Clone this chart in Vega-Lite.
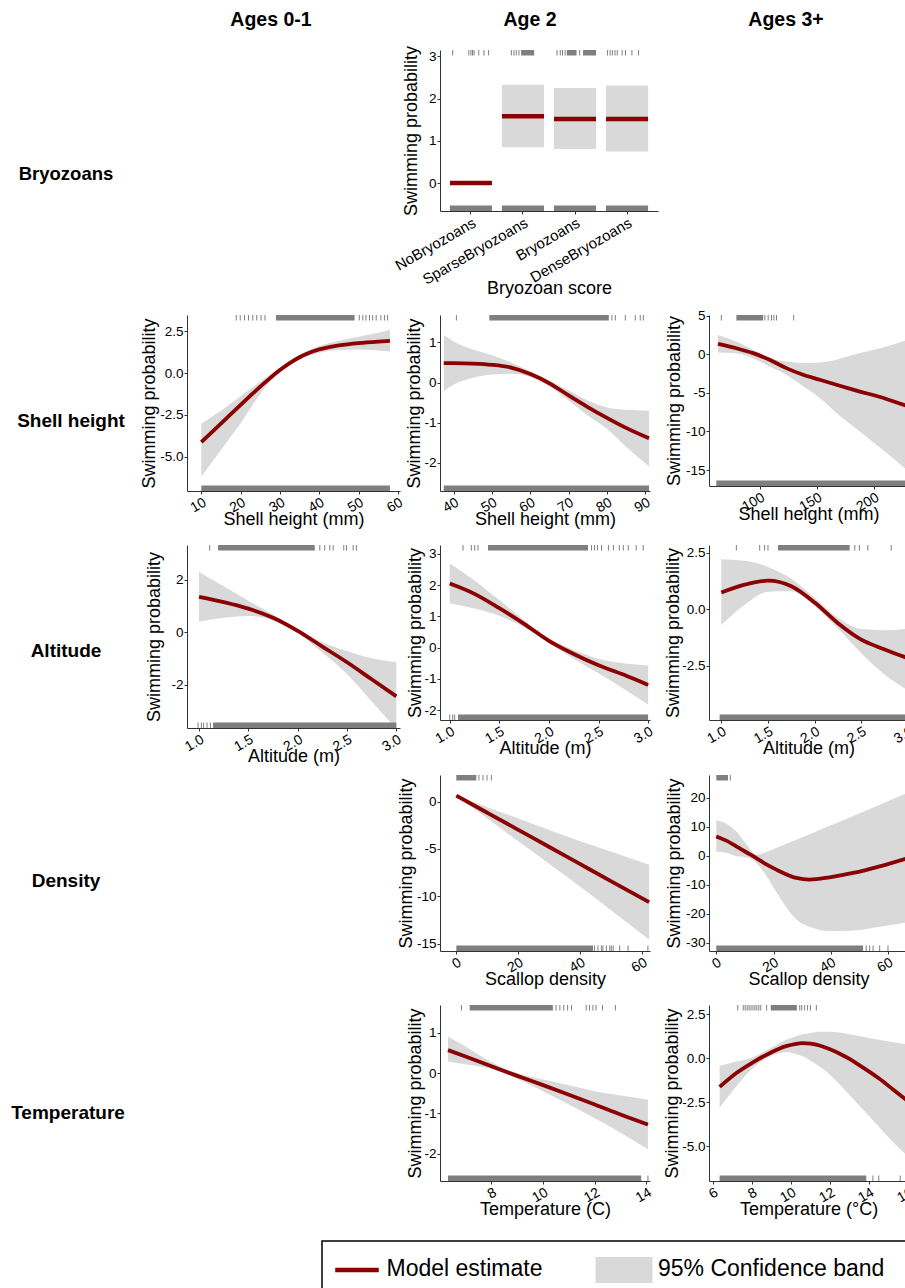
{
"$schema": "https://vega.github.io/schema/vega-lite/v6.json",
"padding": 0,
"background": "white",
"config": {
 "font": "Liberation Sans",
 "view": {"stroke": null},
 "locale": {"number": {"decimal": ".", "thousands": ",", "grouping": [3], "currency": ["$", ""], "minus": "-"}},
 "axis": {"grid": false, "domainColor": "#333333", "tickColor": "#333333", "tickSize": 3, "labelPadding": 1, "labelFontSize": 13.5, "labelColor": "#000000", "titleFontSize": 18, "titleFontWeight": "normal", "titleColor": "#000000", "labelOverlap": false, "labelFlush": false},
 "axisX": {"labelAngle": -30, "labelAlign": "right", "labelBaseline": "top", "labelFontSize": 14, "titlePadding": 0, "minExtent": 19.5, "maxExtent": 19.5},
 "axisY": {"titlePadding": 1}
},
"datasets": {
 "legend": [{"item": "Model estimate"}, {"item": "95% Confidence band"}],
 "bryo": [
  {"cat": "NoBryozoans", "est": 0, "lo": null, "hi": null},
  {"cat": "SparseBryozoans", "est": 1.58, "lo": 0.85, "hi": 2.33},
  {"cat": "Bryozoans", "est": 1.52, "lo": 0.81, "hi": 2.25},
  {"cat": "DenseBryozoans", "est": 1.52, "lo": 0.75, "hi": 2.31}
 ],
 "curves": [
  {"p":"A_shell","x":10,"est":-4.14,"lo":-6.2,"hi":-3.05},
  {"p":"A_shell","x":12.5,"est":-3.58,"lo":-5.4,"hi":-2.65},
  {"p":"A_shell","x":15,"est":-3.02,"lo":-4.6,"hi":-2.25},
  {"p":"A_shell","x":17.5,"est":-2.46,"lo":-3.8,"hi":-1.82},
  {"p":"A_shell","x":20,"est":-1.9,"lo":-3.0,"hi":-1.38},
  {"p":"A_shell","x":22.5,"est":-1.35,"lo":-2.1,"hi":-0.95},
  {"p":"A_shell","x":25,"est":-0.81,"lo":-1.25,"hi":-0.52},
  {"p":"A_shell","x":27.5,"est":-0.3,"lo":-0.52,"hi":-0.1},
  {"p":"A_shell","x":30,"est":0.18,"lo":0.05,"hi":0.32},
  {"p":"A_shell","x":32.5,"est":0.6,"lo":0.48,"hi":0.74},
  {"p":"A_shell","x":35,"est":0.95,"lo":0.8,"hi":1.1},
  {"p":"A_shell","x":37.5,"est":1.22,"lo":1.05,"hi":1.4},
  {"p":"A_shell","x":40,"est":1.42,"lo":1.22,"hi":1.62},
  {"p":"A_shell","x":42.5,"est":1.56,"lo":1.32,"hi":1.8},
  {"p":"A_shell","x":45,"est":1.66,"lo":1.38,"hi":1.94},
  {"p":"A_shell","x":50,"est":1.8,"lo":1.42,"hi":2.18},
  {"p":"A_shell","x":55,"est":1.89,"lo":1.36,"hi":2.42},
  {"p":"A_shell","x":58,"est":1.93,"lo":1.3,"hi":2.6},
  {"p":"B_shell","x":37.4,"est":0.48,"lo":-0.22,"hi":1.18},
  {"p":"B_shell","x":40,"est":0.48,"lo":-0.05,"hi":1.02},
  {"p":"B_shell","x":45,"est":0.47,"lo":0.12,"hi":0.82},
  {"p":"B_shell","x":50,"est":0.44,"lo":0.2,"hi":0.68},
  {"p":"B_shell","x":55,"est":0.37,"lo":0.22,"hi":0.5},
  {"p":"B_shell","x":60,"est":0.21,"lo":0.14,"hi":0.28},
  {"p":"B_shell","x":65,"est":-0.02,"lo":-0.1,"hi":0.05},
  {"p":"B_shell","x":70,"est":-0.32,"lo":-0.45,"hi":-0.2},
  {"p":"B_shell","x":75,"est":-0.61,"lo":-0.82,"hi":-0.45},
  {"p":"B_shell","x":80,"est":-0.88,"lo":-1.15,"hi":-0.62},
  {"p":"B_shell","x":85,"est":-1.13,"lo":-1.6,"hi":-0.68},
  {"p":"B_shell","x":91,"est":-1.39,"lo":-2.09,"hi":-0.7},
  {"p":"C_shell","x":63.5,"est":1.33,"lo":0.22,"hi":2.49},
  {"p":"C_shell","x":79.6,"est":0.77,"lo":0.13,"hi":1.63},
  {"p":"C_shell","x":94.2,"est":0.13,"lo":-0.52,"hi":0.56},
  {"p":"C_shell","x":108.7,"est":-0.73,"lo":-1.59,"hi":-0.52},
  {"p":"C_shell","x":123.3,"est":-1.81,"lo":-2.67,"hi":-0.95},
  {"p":"C_shell","x":137.9,"est":-2.67,"lo":-4.17,"hi":-1.16},
  {"p":"C_shell","x":152.5,"est":-3.31,"lo":-5.68,"hi":-1.08},
  {"p":"C_shell","x":167.1,"est":-3.96,"lo":-7.61,"hi":-0.73},
  {"p":"C_shell","x":181.6,"est":-4.6,"lo":-9.33,"hi":-0.09},
  {"p":"C_shell","x":210.8,"est":-5.8,"lo":-12.77,"hi":0.99},
  {"p":"C_shell","x":229.7,"est":-6.75,"lo":-15.14,"hi":1.85},
  {"p":"A_alt","x":1.0,"est":1.35,"lo":0.4,"hi":2.3},
  {"p":"A_alt","x":1.25,"est":1.15,"lo":0.55,"hi":1.75},
  {"p":"A_alt","x":1.5,"est":0.9,"lo":0.62,"hi":1.2},
  {"p":"A_alt","x":1.75,"est":0.55,"lo":0.45,"hi":0.68},
  {"p":"A_alt","x":2.0,"est":0.05,"lo":-0.03,"hi":0.12},
  {"p":"A_alt","x":2.25,"est":-0.55,"lo":-0.78,"hi":-0.38},
  {"p":"A_alt","x":2.5,"est":-1.15,"lo":-1.6,"hi":-0.72},
  {"p":"A_alt","x":2.75,"est":-1.8,"lo":-2.65,"hi":-1.0},
  {"p":"A_alt","x":3.0,"est":-2.45,"lo":-3.7,"hi":-1.15},
  {"p":"B_alt","x":1.0,"est":2.05,"lo":1.42,"hi":2.69},
  {"p":"B_alt","x":1.25,"est":1.72,"lo":1.25,"hi":2.15},
  {"p":"B_alt","x":1.5,"est":1.26,"lo":1.02,"hi":1.52},
  {"p":"B_alt","x":1.75,"est":0.76,"lo":0.65,"hi":0.88},
  {"p":"B_alt","x":2.0,"est":0.22,"lo":0.15,"hi":0.3},
  {"p":"B_alt","x":2.25,"est":-0.2,"lo":-0.35,"hi":-0.07},
  {"p":"B_alt","x":2.5,"est":-0.56,"lo":-0.82,"hi":-0.35},
  {"p":"B_alt","x":2.75,"est":-0.86,"lo":-1.3,"hi":-0.5},
  {"p":"B_alt","x":3.0,"est":-1.19,"lo":-1.82,"hi":-0.57},
  {"p":"C_alt","x":1.0,"est":0.74,"lo":-0.7,"hi":2.22},
  {"p":"C_alt","x":1.25,"est":1.09,"lo":0.2,"hi":2.15},
  {"p":"C_alt","x":1.5,"est":1.27,"lo":0.78,"hi":1.88},
  {"p":"C_alt","x":1.75,"est":1.02,"lo":0.8,"hi":1.35},
  {"p":"C_alt","x":2.0,"est":0.3,"lo":0.15,"hi":0.5},
  {"p":"C_alt","x":2.25,"est":-0.62,"lo":-0.85,"hi":-0.38},
  {"p":"C_alt","x":2.5,"est":-1.35,"lo":-1.95,"hi":-0.88},
  {"p":"C_alt","x":2.75,"est":-1.78,"lo":-2.9,"hi":-0.93},
  {"p":"C_alt","x":3.0,"est":-2.17,"lo":-3.59,"hi":-0.86},
  {"p":"B_dens","x":0,"est":0.63,"lo":0.55,"hi":0.7},
  {"p":"B_dens","x":10,"est":-1.18,"lo":-1.8,"hi":-0.6},
  {"p":"B_dens","x":20,"est":-2.99,"lo":-4.2,"hi":-1.8},
  {"p":"B_dens","x":30,"est":-4.8,"lo":-6.6,"hi":-3.0},
  {"p":"B_dens","x":40,"est":-6.61,"lo":-9.0,"hi":-4.2},
  {"p":"B_dens","x":50,"est":-8.42,"lo":-11.5,"hi":-5.3},
  {"p":"B_dens","x":62.2,"est":-10.62,"lo":-14.55,"hi":-6.66},
  {"p":"C_dens","x":0,"est":6.67,"lo":1.5,"hi":12.2},
  {"p":"C_dens","x":3.5,"est":5.2,"lo":1.0,"hi":11.0},
  {"p":"C_dens","x":7,"est":3.23,"lo":-0.2,"hi":8.4},
  {"p":"C_dens","x":10.5,"est":1.2,"lo":-0.5,"hi":4.0},
  {"p":"C_dens","x":14,"est":-0.8,"lo":-2.5,"hi":0.3},
  {"p":"C_dens","x":17.5,"est":-3.0,"lo":-7.0,"hi":1.3},
  {"p":"C_dens","x":21,"est":-4.8,"lo":-12.5,"hi":2.7},
  {"p":"C_dens","x":28,"est":-7.67,"lo":-22.0,"hi":5.5},
  {"p":"C_dens","x":32.6,"est":-8.25,"lo":-24.5,"hi":7.4},
  {"p":"C_dens","x":39.6,"est":-7.44,"lo":-26.0,"hi":10.3},
  {"p":"C_dens","x":47.8,"est":-5.95,"lo":-25.8,"hi":13.7},
  {"p":"C_dens","x":57.1,"est":-3.66,"lo":-24.5,"hi":17.6},
  {"p":"C_dens","x":67,"est":-0.8,"lo":-23.0,"hi":21.7},
  {"p":"B_temp","x":6.32,"est":0.57,"lo":0.29,"hi":0.9},
  {"p":"B_temp","x":7,"est":0.41,"lo":0.22,"hi":0.66},
  {"p":"B_temp","x":8,"est":0.17,"lo":0.1,"hi":0.27},
  {"p":"B_temp","x":9,"est":-0.07,"lo":-0.14,"hi":0.0},
  {"p":"B_temp","x":10,"est":-0.3,"lo":-0.45,"hi":-0.16},
  {"p":"B_temp","x":11,"est":-0.54,"lo":-0.78,"hi":-0.3},
  {"p":"B_temp","x":12,"est":-0.78,"lo":-1.12,"hi":-0.45},
  {"p":"B_temp","x":13,"est":-1.03,"lo":-1.48,"hi":-0.56},
  {"p":"B_temp","x":14.06,"est":-1.28,"lo":-1.9,"hi":-0.66},
  {"p":"C_temp","x":6.34,"est":-1.64,"lo":-2.83,"hi":-0.44},
  {"p":"C_temp","x":7.2,"est":-0.85,"lo":-1.6,"hi":-0.2},
  {"p":"C_temp","x":8.05,"est":-0.24,"lo":-0.55,"hi":0.05},
  {"p":"C_temp","x":8.9,"est":0.28,"lo":0.07,"hi":0.54},
  {"p":"C_temp","x":9.75,"est":0.68,"lo":0.35,"hi":1.05},
  {"p":"C_temp","x":10.2,"est":0.8,"lo":0.25,"hi":1.22},
  {"p":"C_temp","x":10.6,"est":0.85,"lo":0.1,"hi":1.35},
  {"p":"C_temp","x":11.0,"est":0.82,"lo":-0.15,"hi":1.43},
  {"p":"C_temp","x":11.5,"est":0.7,"lo":-0.5,"hi":1.5},
  {"p":"C_temp","x":12.0,"est":0.5,"lo":-0.95,"hi":1.5},
  {"p":"C_temp","x":12.5,"est":0.25,"lo":-1.5,"hi":1.45},
  {"p":"C_temp","x":13.0,"est":-0.05,"lo":-2.1,"hi":1.36},
  {"p":"C_temp","x":13.5,"est":-0.4,"lo":-2.7,"hi":1.25},
  {"p":"C_temp","x":14.5,"est":-1.15,"lo":-3.9,"hi":1.04},
  {"p":"C_temp","x":15.25,"est":-1.8,"lo":-4.8,"hi":0.9},
  {"p":"C_temp","x":16.0,"est":-2.45,"lo":-5.6,"hi":0.76}
 ],
 "rugticks": [
  {"p":"A_shell","side":"top","x":18.9},{"p":"A_shell","side":"top","x":19.9},{"p":"A_shell","side":"top","x":21.0},{"p":"A_shell","side":"top","x":22.0},{"p":"A_shell","side":"top","x":23.1},{"p":"A_shell","side":"top","x":24.1},{"p":"A_shell","side":"top","x":25.2},{"p":"A_shell","side":"top","x":26.2},{"p":"A_shell","side":"top","x":50.2},{"p":"A_shell","side":"top","x":51.1},{"p":"A_shell","side":"top","x":51.9},{"p":"A_shell","side":"top","x":52.8},{"p":"A_shell","side":"top","x":53.6},{"p":"A_shell","side":"top","x":54.5},{"p":"A_shell","side":"top","x":55.7},{"p":"A_shell","side":"top","x":56.6},{"p":"A_shell","side":"top","x":57.4},
  {"p":"B_shell","side":"top","x":40.7},{"p":"B_shell","side":"top","x":81.3},{"p":"B_shell","side":"top","x":82.2},{"p":"B_shell","side":"top","x":84.8},{"p":"B_shell","side":"top","x":87.4},{"p":"B_shell","side":"top","x":88.7},{"p":"B_shell","side":"top","x":89.5},
  {"p":"C_shell","side":"top","x":66.4},{"p":"C_shell","side":"top","x":104.5},{"p":"C_shell","side":"top","x":107.4},{"p":"C_shell","side":"top","x":110.3},{"p":"C_shell","side":"top","x":112.4},{"p":"C_shell","side":"top","x":114.7},{"p":"C_shell","side":"top","x":129.7},
  {"p":"A_alt","side":"top","x":1.108},{"p":"A_alt","side":"top","x":2.224},{"p":"A_alt","side":"top","x":2.274},{"p":"A_alt","side":"top","x":2.325},{"p":"A_alt","side":"top","x":2.359},{"p":"A_alt","side":"top","x":2.467},{"p":"A_alt","side":"top","x":2.494},{"p":"A_alt","side":"top","x":2.562},{"p":"A_alt","side":"top","x":2.595},
  {"p":"A_alt","side":"bottom","x":0.99},{"p":"A_alt","side":"bottom","x":1.024},{"p":"A_alt","side":"bottom","x":1.047},{"p":"A_alt","side":"bottom","x":1.081},{"p":"A_alt","side":"bottom","x":1.115},
  {"p":"B_alt","side":"top","x":1.134},{"p":"B_alt","side":"top","x":1.218},{"p":"B_alt","side":"top","x":1.252},{"p":"B_alt","side":"top","x":1.285},{"p":"B_alt","side":"top","x":2.43},{"p":"B_alt","side":"top","x":2.46},{"p":"B_alt","side":"top","x":2.49},{"p":"B_alt","side":"top","x":2.53},{"p":"B_alt","side":"top","x":2.6},{"p":"B_alt","side":"top","x":2.65},{"p":"B_alt","side":"top","x":2.71},{"p":"B_alt","side":"top","x":2.75},{"p":"B_alt","side":"top","x":2.8},{"p":"B_alt","side":"top","x":2.88},{"p":"B_alt","side":"top","x":2.95},
  {"p":"B_alt","side":"bottom","x":1.0},{"p":"B_alt","side":"bottom","x":1.03},{"p":"B_alt","side":"bottom","x":1.05},
  {"p":"C_alt","side":"top","x":1.161},{"p":"C_alt","side":"top","x":1.411},{"p":"C_alt","side":"top","x":1.464},{"p":"C_alt","side":"top","x":1.5},{"p":"C_alt","side":"top","x":2.43},{"p":"C_alt","side":"top","x":2.48},{"p":"C_alt","side":"top","x":2.57},{"p":"C_alt","side":"top","x":2.82},
  {"p":"B_dens","side":"top","x":7.3},{"p":"B_dens","side":"top","x":8.6},{"p":"B_dens","side":"top","x":9.9},{"p":"B_dens","side":"top","x":11.3},
  {"p":"B_dens","side":"bottom","x":44.6},{"p":"B_dens","side":"bottom","x":45.7},{"p":"B_dens","side":"bottom","x":46.8},{"p":"B_dens","side":"bottom","x":47.3},{"p":"B_dens","side":"bottom","x":48.4},{"p":"B_dens","side":"bottom","x":49.5},{"p":"B_dens","side":"bottom","x":50.0},{"p":"B_dens","side":"bottom","x":50.6},{"p":"B_dens","side":"bottom","x":52.7},{"p":"B_dens","side":"bottom","x":55.4},{"p":"B_dens","side":"bottom","x":61.8},
  {"p":"C_dens","side":"top","x":4.9},
  {"p":"C_dens","side":"bottom","x":52.4},{"p":"C_dens","side":"bottom","x":53.6},{"p":"C_dens","side":"bottom","x":54.8},{"p":"C_dens","side":"bottom","x":57.1},{"p":"C_dens","side":"bottom","x":60.0},{"p":"C_dens","side":"bottom","x":66.4},
  {"p":"B_temp","side":"top","x":6.84},{"p":"B_temp","side":"top","x":10.5},{"p":"B_temp","side":"top","x":10.65},{"p":"B_temp","side":"top","x":10.8},{"p":"B_temp","side":"top","x":10.95},{"p":"B_temp","side":"top","x":11.1},{"p":"B_temp","side":"top","x":11.67},{"p":"B_temp","side":"top","x":11.8},{"p":"B_temp","side":"top","x":11.93},{"p":"B_temp","side":"top","x":12.05},{"p":"B_temp","side":"top","x":12.3},{"p":"B_temp","side":"top","x":12.8},
  {"p":"B_temp","side":"bottom","x":14.06},
  {"p":"C_temp","side":"top","x":7.27},{"p":"C_temp","side":"top","x":7.55},{"p":"C_temp","side":"top","x":7.65},{"p":"C_temp","side":"top","x":7.75},{"p":"C_temp","side":"top","x":7.85},{"p":"C_temp","side":"top","x":7.95},{"p":"C_temp","side":"top","x":8.05},{"p":"C_temp","side":"top","x":8.15},{"p":"C_temp","side":"top","x":8.25},{"p":"C_temp","side":"top","x":8.35},{"p":"C_temp","side":"top","x":8.45},{"p":"C_temp","side":"top","x":8.75},{"p":"C_temp","side":"top","x":10.45},{"p":"C_temp","side":"top","x":10.55},{"p":"C_temp","side":"top","x":10.7},{"p":"C_temp","side":"top","x":10.85},{"p":"C_temp","side":"top","x":11.0},{"p":"C_temp","side":"top","x":11.3},
  {"p":"C_temp","side":"bottom","x":14.2},{"p":"C_temp","side":"bottom","x":14.5},{"p":"C_temp","side":"bottom","x":15.6},{"p":"C_temp","side":"bottom","x":15.9},
  {"p":"B_bryo","side":"top","x":0.65},{"p":"B_bryo","side":"top","x":0.96},{"p":"B_bryo","side":"top","x":1.0},{"p":"B_bryo","side":"top","x":1.03},{"p":"B_bryo","side":"top","x":1.06},{"p":"B_bryo","side":"top","x":1.15},{"p":"B_bryo","side":"top","x":1.25},{"p":"B_bryo","side":"top","x":1.34},{"p":"B_bryo","side":"top","x":1.777},{"p":"B_bryo","side":"top","x":1.827},{"p":"B_bryo","side":"top","x":1.871},{"p":"B_bryo","side":"top","x":1.922},{"p":"B_bryo","side":"top","x":2.654},{"p":"B_bryo","side":"top","x":2.717},{"p":"B_bryo","side":"top","x":2.76},{"p":"B_bryo","side":"top","x":2.81},{"p":"B_bryo","side":"top","x":3.09},{"p":"B_bryo","side":"top","x":3.624},{"p":"B_bryo","side":"top","x":3.675},{"p":"B_bryo","side":"top","x":3.718},{"p":"B_bryo","side":"top","x":3.769},{"p":"B_bryo","side":"top","x":3.812},{"p":"B_bryo","side":"top","x":3.906},{"p":"B_bryo","side":"top","x":3.97},{"p":"B_bryo","side":"top","x":4.094},{"p":"B_bryo","side":"top","x":4.22}
 ],
 "rugbands": [
  {"p":"A_shell","side":"top","x":29.0,"x2":49.0},{"p":"A_shell","side":"bottom","x":10,"x2":58},
  {"p":"B_shell","side":"top","x":49.3,"x2":80.5},{"p":"B_shell","side":"bottom","x":37.4,"x2":91},
  {"p":"C_shell","side":"top","x":79.6,"x2":103},{"p":"C_shell","side":"bottom","x":62,"x2":229.6},
  {"p":"A_alt","side":"top","x":1.193,"x2":2.173},{"p":"A_alt","side":"bottom","x":1.142,"x2":3.0},
  {"p":"B_alt","side":"top","x":1.386,"x2":2.394},{"p":"B_alt","side":"bottom","x":1.084,"x2":3.0},
  {"p":"C_alt","side":"top","x":1.607,"x2":2.375},{"p":"C_alt","side":"bottom","x":0.982,"x2":3.0},
  {"p":"B_dens","side":"top","x":0,"x2":6.45},{"p":"B_dens","side":"bottom","x":0,"x2":44.1},
  {"p":"C_dens","side":"top","x":0,"x2":4.1},{"p":"C_dens","side":"bottom","x":0,"x2":51.3},
  {"p":"B_temp","side":"top","x":7.16,"x2":10.38},{"p":"B_temp","side":"bottom","x":6.32,"x2":13.8},
  {"p":"C_temp","side":"top","x":8.96,"x2":10.3},{"p":"C_temp","side":"bottom","x":6.34,"x2":13.86},
  {"p":"B_bryo","side":"top","x":1.965,"x2":2.215},{"p":"B_bryo","side":"top","x":2.842,"x2":3.03},{"p":"B_bryo","side":"top","x":3.155,"x2":3.406},
  {"p":"B_bryo","side":"bottom","x":0.595,"x2":1.405},{"p":"B_bryo","side":"bottom","x":1.595,"x2":2.405},{"p":"B_bryo","side":"bottom","x":2.595,"x2":3.405},{"p":"B_bryo","side":"bottom","x":3.595,"x2":4.405}
 ]
},
"spacing": 12,
"vconcat": [
 {
 "columns": 7,
 "spacing": {"row": 12, "column": 0},
 "bounds": "flush",
 "align": "each",
 "concat": [
 {"width": 1, "height": 1, "data": {"values": [{"a": 1}]}, "mark": {"type": "point", "opacity": 0}},
 {"width": 1, "height": 1, "data": {"values": [{"a": 1}]}, "mark": {"type": "point", "opacity": 0}},
 {"width": 168, "height": 35, "data": {"values": [{"t": "Ages 0-1"}]}, "mark": {"type": "text", "fontSize": 19.5, "fontWeight": "bold", "dy": -1}, "encoding": {"text": {"field": "t"}}},
 {"width": 1, "height": 1, "data": {"values": [{"a": 1}]}, "mark": {"type": "point", "opacity": 0}},
 {"width": 180, "height": 35, "data": {"values": [{"t": "Age 2"}]}, "mark": {"type": "text", "fontSize": 19.5, "fontWeight": "bold", "dy": -1}, "encoding": {"text": {"field": "t"}}},
 {"width": 1, "height": 1, "data": {"values": [{"a": 1}]}, "mark": {"type": "point", "opacity": 0}},
 {"width": 154, "height": 35, "data": {"values": [{"t": "Ages 3+"}]}, "mark": {"type": "text", "fontSize": 19.5, "fontWeight": "bold", "dy": -1}, "encoding": {"text": {"field": "t"}}},

 {"width": 126, "height": 253, "data": {"values": [{"t": "Bryozoans"}]}, "mark": {"type": "text", "fontSize": 18.5, "fontWeight": "bold", "dy": -3}, "encoding": {"text": {"field": "t"}}},
 {"width": 1, "height": 1, "data": {"values": [{"a": 1}]}, "mark": {"type": "point", "opacity": 0}},
 {"width": 1, "height": 1, "data": {"values": [{"a": 1}]}, "mark": {"type": "point", "opacity": 0}},
 {"width": 1, "height": 1, "data": {"values": [{"a": 1}]}, "mark": {"type": "point", "opacity": 0}},
 {"width": 218, "height": 161,
  "layer": [
   {"data": {"name": "bryo"}, "mark": {"type": "bar", "color": "#d9d9d9", "opacity": 1},
    "encoding": {
     "x": {"field": "cat", "type": "nominal", "sort": null, "scale": {"domain": ["NoBryozoans", "SparseBryozoans", "Bryozoans", "DenseBryozoans"], "paddingInner": 0.19, "paddingOuter": 0.19}, "axis": {"title": "Bryozoan score", "labelFontSize": 15, "minExtent": 68.5, "maxExtent": 68.5}},
     "y": {"field": "lo", "type": "quantitative", "scale": {"domain": [-0.66, 3.15], "nice": false, "zero": false}, "axis": {"title": "Swimming probability", "values": [0, 1, 2, 3], "minExtent": 18.6, "maxExtent": 18.6}},
     "y2": {"field": "hi"}}},
   {"data": {"name": "bryo"}, "mark": {"type": "tick", "color": "#8b0000", "thickness": 4.5, "size": 42, "opacity": 1},
    "encoding": {
     "x": {"field": "cat", "type": "nominal", "sort": null, "scale": {"domain": ["NoBryozoans", "SparseBryozoans", "Bryozoans", "DenseBryozoans"], "paddingInner": 0.19, "paddingOuter": 0.19}, "axis": null},
     "y": {"field": "est", "type": "quantitative", "scale": {"domain": [-0.66, 3.15], "nice": false, "zero": false}, "axis": null}}},
   {"data": {"name": "rugticks"}, "transform": [{"filter": "datum.p === 'B_bryo'"}], "mark": {"type": "tick", "color": "#7f7f7f", "thickness": 1, "size": 5.5, "opacity": 1},
    "encoding": {
     "x": {"field": "x", "type": "quantitative", "scale": {"domain": [0.4053, 4.5957], "nice": false, "zero": false}, "axis": null},
     "y": {"field": "side", "type": "nominal", "scale": {"type": "point", "domain": ["top", "bottom"], "padding": 0.01768}, "axis": null}}},
   {"data": {"name": "rugbands"}, "transform": [{"filter": "datum.p === 'B_bryo'"}], "mark": {"type": "rule", "color": "#7f7f7f", "strokeWidth": 5.5},
    "encoding": {
     "x": {"field": "x", "type": "quantitative", "scale": {"domain": [0.4053, 4.5957], "nice": false, "zero": false}, "axis": null},
     "x2": {"field": "x2"},
     "y": {"field": "side", "type": "nominal", "scale": {"type": "point", "domain": ["top", "bottom"], "padding": 0.01768}, "axis": null}}}
  ],
  "resolve": {"scale": {"x": "independent", "y": "independent"}}
 },
 {"width": 1, "height": 1, "data": {"values": [{"a": 1}]}, "mark": {"type": "point", "opacity": 0}},
 {"width": 1, "height": 1, "data": {"values": [{"a": 1}]}, "mark": {"type": "point", "opacity": 0}},

 {"width": 126, "height": 218, "data": {"values": [{"t": "Shell height"}]}, "mark": {"type": "text", "fontSize": 19, "fontWeight": "bold", "dx": 5, "dy": -3}, "encoding": {"text": {"field": "t"}}},
 {"width": 58, "height": 1, "data": {"values": [{"a": 1}]}, "mark": {"type": "point", "opacity": 0}},
 {"width": 213, "height": 176,
  "encoding": {"x": {"field": "x", "type": "quantitative", "scale": {"domain": [6.36, 60.56], "nice": false, "zero": false}, "axis": {"title": "Shell height (mm)", "values": [10, 20, 30, 40, 50, 60]}}},
  "layer": [
   {"data": {"name": "curves"}, "transform": [{"filter": "datum.p === 'A_shell'"}], "mark": {"type": "area", "color": "#d9d9d9", "opacity": 1, "interpolate": "monotone", "clip": true},
    "encoding": {"y": {"field": "lo", "type": "quantitative", "scale": {"domain": [-7.06, 3.48], "nice": false, "zero": false}, "axis": {"title": "Swimming probability", "values": [-5, -2.5, 0, 2.5], "format": ".1f", "minExtent": 27.6, "maxExtent": 27.6}}, "y2": {"field": "hi"}}},
   {"data": {"name": "curves"}, "transform": [{"filter": "datum.p === 'A_shell'"}], "mark": {"type": "line", "color": "#8b0000", "strokeWidth": 3.8, "interpolate": "monotone", "clip": true},
    "encoding": {"y": {"field": "est", "type": "quantitative", "scale": {"domain": [-7.06, 3.48], "nice": false, "zero": false}, "axis": null}}},
   {"data": {"name": "rugticks"}, "transform": [{"filter": "datum.p === 'A_shell'"}], "mark": {"type": "tick", "color": "#7f7f7f", "thickness": 1, "size": 5.5, "opacity": 1},
    "encoding": {"y": {"field": "side", "type": "nominal", "scale": {"type": "point", "domain": ["top", "bottom"], "padding": 0.01613}, "axis": null}}},
   {"data": {"name": "rugbands"}, "transform": [{"filter": "datum.p === 'A_shell'"}], "mark": {"type": "rule", "color": "#7f7f7f", "strokeWidth": 5.5, "clip": true},
    "encoding": {"x2": {"field": "x2"}, "y": {"field": "side", "type": "nominal", "scale": {"type": "point", "domain": ["top", "bottom"], "padding": 0.01613}, "axis": null}}}
  ],
  "resolve": {"scale": {"y": "independent"}}
 },
 {"width": 40, "height": 1, "data": {"values": [{"a": 1}]}, "mark": {"type": "point", "opacity": 0}},
 {"width": 210, "height": 176,
  "encoding": {"x": {"field": "x", "type": "quantitative", "scale": {"domain": [36.42, 91.25], "nice": false, "zero": false}, "axis": {"title": "Shell height (mm)", "values": [40, 50, 60, 70, 80, 90]}}},
  "layer": [
   {"data": {"name": "curves"}, "transform": [{"filter": "datum.p === 'B_shell'"}], "mark": {"type": "area", "color": "#d9d9d9", "opacity": 1, "interpolate": "monotone", "clip": true},
    "encoding": {"y": {"field": "lo", "type": "quantitative", "scale": {"domain": [-2.7, 1.68], "nice": false, "zero": false}, "axis": {"title": "Swimming probability", "values": [-2, -1, 0, 1], "minExtent": 15.1, "maxExtent": 15.1}}, "y2": {"field": "hi"}}},
   {"data": {"name": "curves"}, "transform": [{"filter": "datum.p === 'B_shell'"}], "mark": {"type": "line", "color": "#8b0000", "strokeWidth": 3.8, "interpolate": "monotone", "clip": true},
    "encoding": {"y": {"field": "est", "type": "quantitative", "scale": {"domain": [-2.7, 1.68], "nice": false, "zero": false}, "axis": null}}},
   {"data": {"name": "rugticks"}, "transform": [{"filter": "datum.p === 'B_shell'"}], "mark": {"type": "tick", "color": "#7f7f7f", "thickness": 1, "size": 5.5, "opacity": 1},
    "encoding": {"y": {"field": "side", "type": "nominal", "scale": {"type": "point", "domain": ["top", "bottom"], "padding": 0.01613}, "axis": null}}},
   {"data": {"name": "rugbands"}, "transform": [{"filter": "datum.p === 'B_shell'"}], "mark": {"type": "rule", "color": "#7f7f7f", "strokeWidth": 5.5, "clip": true},
    "encoding": {"x2": {"field": "x2"}, "y": {"field": "side", "type": "nominal", "scale": {"type": "point", "domain": ["top", "bottom"], "padding": 0.01613}, "axis": null}}}
  ],
  "resolve": {"scale": {"y": "independent"}}
 },
 {"width": 51, "height": 1, "data": {"values": [{"a": 1}]}, "mark": {"type": "point", "opacity": 0}},
 {"width": 199, "height": 171,
  "encoding": {"x": {"field": "x", "type": "quantitative", "scale": {"domain": [55.64, 229.7], "nice": false, "zero": false}, "axis": {"title": "Shell height (mm)", "values": [100, 150, 200]}}},
  "layer": [
   {"data": {"name": "curves"}, "transform": [{"filter": "datum.p === 'C_shell'"}], "mark": {"type": "area", "color": "#d9d9d9", "opacity": 1, "interpolate": "monotone", "clip": true},
    "encoding": {"y": {"field": "lo", "type": "quantitative", "scale": {"domain": [-17.07, 5.07], "nice": false, "zero": false}, "axis": {"title": "Swimming probability", "values": [-15, -10, -5, 0, 5], "minExtent": 24.6, "maxExtent": 24.6}}, "y2": {"field": "hi"}}},
   {"data": {"name": "curves"}, "transform": [{"filter": "datum.p === 'C_shell'"}], "mark": {"type": "line", "color": "#8b0000", "strokeWidth": 3.8, "interpolate": "monotone", "clip": true},
    "encoding": {"y": {"field": "est", "type": "quantitative", "scale": {"domain": [-17.07, 5.07], "nice": false, "zero": false}, "axis": null}}},
   {"data": {"name": "rugticks"}, "transform": [{"filter": "datum.p === 'C_shell'"}], "mark": {"type": "tick", "color": "#7f7f7f", "thickness": 1, "size": 5.5, "opacity": 1},
    "encoding": {"y": {"field": "side", "type": "nominal", "scale": {"type": "point", "domain": ["top", "bottom"], "padding": 0.01662}, "axis": null}}},
   {"data": {"name": "rugbands"}, "transform": [{"filter": "datum.p === 'C_shell'"}], "mark": {"type": "rule", "color": "#7f7f7f", "strokeWidth": 5.5, "clip": true},
    "encoding": {"x2": {"field": "x2"}, "y": {"field": "side", "type": "nominal", "scale": {"type": "point", "domain": ["top", "bottom"], "padding": 0.01662}, "axis": null}}}
  ],
  "resolve": {"scale": {"y": "independent"}}
 },

 {"width": 126, "height": 218, "data": {"values": [{"t": "Altitude"}]}, "mark": {"type": "text", "fontSize": 19, "fontWeight": "bold", "dy": -3}, "encoding": {"text": {"field": "t"}}},
 {"width": 58, "height": 1, "data": {"values": [{"a": 1}]}, "mark": {"type": "point", "opacity": 0}},
 {"width": 213, "height": 183,
  "encoding": {"x": {"field": "x", "type": "quantitative", "scale": {"domain": [0.878, 3.037], "nice": false, "zero": false}, "axis": {"title": "Altitude (m)", "values": [1, 1.5, 2, 2.5, 3], "format": ".1f"}}},
  "layer": [
   {"data": {"name": "curves"}, "transform": [{"filter": "datum.p === 'A_alt'"}], "mark": {"type": "area", "color": "#d9d9d9", "opacity": 1, "interpolate": "monotone", "clip": true},
    "encoding": {"y": {"field": "lo", "type": "quantitative", "scale": {"domain": [-3.66, 3.33], "nice": false, "zero": false}, "axis": {"title": "Swimming probability", "values": [-2, 0, 2], "minExtent": 22.6, "maxExtent": 22.6}}, "y2": {"field": "hi"}}},
   {"data": {"name": "curves"}, "transform": [{"filter": "datum.p === 'A_alt'"}], "mark": {"type": "line", "color": "#8b0000", "strokeWidth": 3.8, "interpolate": "monotone", "clip": true},
    "encoding": {"y": {"field": "est", "type": "quantitative", "scale": {"domain": [-3.66, 3.33], "nice": false, "zero": false}, "axis": null}}},
   {"data": {"name": "rugticks"}, "transform": [{"filter": "datum.p === 'A_alt'"}], "mark": {"type": "tick", "color": "#7f7f7f", "thickness": 1, "size": 5.5, "opacity": 1},
    "encoding": {"y": {"field": "side", "type": "nominal", "scale": {"type": "point", "domain": ["top", "bottom"], "padding": 0.01549}, "axis": null}}},
   {"data": {"name": "rugbands"}, "transform": [{"filter": "datum.p === 'A_alt'"}], "mark": {"type": "rule", "color": "#7f7f7f", "strokeWidth": 5.5, "clip": true},
    "encoding": {"x2": {"field": "x2"}, "y": {"field": "side", "type": "nominal", "scale": {"type": "point", "domain": ["top", "bottom"], "padding": 0.01549}, "axis": null}}}
  ],
  "resolve": {"scale": {"y": "independent"}}
 },
 {"width": 40, "height": 1, "data": {"values": [{"a": 1}]}, "mark": {"type": "point", "opacity": 0}},
 {"width": 210, "height": 175,
  "encoding": {"x": {"field": "x", "type": "quantitative", "scale": {"domain": [0.902, 3.019], "nice": false, "zero": false}, "axis": {"title": "Altitude (m)", "values": [1, 1.5, 2, 2.5, 3], "format": ".1f"}}},
  "layer": [
   {"data": {"name": "curves"}, "transform": [{"filter": "datum.p === 'B_alt'"}], "mark": {"type": "area", "color": "#d9d9d9", "opacity": 1, "interpolate": "monotone", "clip": true},
    "encoding": {"y": {"field": "lo", "type": "quantitative", "scale": {"domain": [-2.31, 3.28], "nice": false, "zero": false}, "axis": {"title": "Swimming probability", "values": [-2, -1, 0, 1, 2, 3], "minExtent": 14.6, "maxExtent": 14.6}}, "y2": {"field": "hi"}}},
   {"data": {"name": "curves"}, "transform": [{"filter": "datum.p === 'B_alt'"}], "mark": {"type": "line", "color": "#8b0000", "strokeWidth": 3.8, "interpolate": "monotone", "clip": true},
    "encoding": {"y": {"field": "est", "type": "quantitative", "scale": {"domain": [-2.31, 3.28], "nice": false, "zero": false}, "axis": null}}},
   {"data": {"name": "rugticks"}, "transform": [{"filter": "datum.p === 'B_alt'"}], "mark": {"type": "tick", "color": "#7f7f7f", "thickness": 1, "size": 5.5, "opacity": 1},
    "encoding": {"y": {"field": "side", "type": "nominal", "scale": {"type": "point", "domain": ["top", "bottom"], "padding": 0.01622}, "axis": null}}},
   {"data": {"name": "rugbands"}, "transform": [{"filter": "datum.p === 'B_alt'"}], "mark": {"type": "rule", "color": "#7f7f7f", "strokeWidth": 5.5, "clip": true},
    "encoding": {"x2": {"field": "x2"}, "y": {"field": "side", "type": "nominal", "scale": {"type": "point", "domain": ["top", "bottom"], "padding": 0.01622}, "axis": null}}}
  ],
  "resolve": {"scale": {"y": "independent"}}
 },
 {"width": 51, "height": 1, "data": {"values": [{"a": 1}]}, "mark": {"type": "point", "opacity": 0}},
 {"width": 199, "height": 175,
  "encoding": {"x": {"field": "x", "type": "quantitative", "scale": {"domain": [0.868, 3.0], "nice": false, "zero": false}, "axis": {"title": "Altitude (m)", "values": [1, 1.5, 2, 2.5, 3], "format": ".1f"}}},
  "layer": [
   {"data": {"name": "curves"}, "transform": [{"filter": "datum.p === 'C_alt'"}], "mark": {"type": "area", "color": "#d9d9d9", "opacity": 1, "interpolate": "monotone", "clip": true},
    "encoding": {"y": {"field": "lo", "type": "quantitative", "scale": {"domain": [-4.91, 2.85], "nice": false, "zero": false}, "axis": {"title": "Swimming probability", "values": [-2.5, 0, 2.5], "format": ".1f", "minExtent": 26, "maxExtent": 26}}, "y2": {"field": "hi"}}},
   {"data": {"name": "curves"}, "transform": [{"filter": "datum.p === 'C_alt'"}], "mark": {"type": "line", "color": "#8b0000", "strokeWidth": 3.8, "interpolate": "monotone", "clip": true},
    "encoding": {"y": {"field": "est", "type": "quantitative", "scale": {"domain": [-4.91, 2.85], "nice": false, "zero": false}, "axis": null}}},
   {"data": {"name": "rugticks"}, "transform": [{"filter": "datum.p === 'C_alt'"}], "mark": {"type": "tick", "color": "#7f7f7f", "thickness": 1, "size": 5.5, "opacity": 1},
    "encoding": {"y": {"field": "side", "type": "nominal", "scale": {"type": "point", "domain": ["top", "bottom"], "padding": 0.01622}, "axis": null}}},
   {"data": {"name": "rugbands"}, "transform": [{"filter": "datum.p === 'C_alt'"}], "mark": {"type": "rule", "color": "#7f7f7f", "strokeWidth": 5.5, "clip": true},
    "encoding": {"x2": {"field": "x2"}, "y": {"field": "side", "type": "nominal", "scale": {"type": "point", "domain": ["top", "bottom"], "padding": 0.01622}, "axis": null}}}
  ],
  "resolve": {"scale": {"y": "independent"}}
 },

 {"width": 126, "height": 218, "data": {"values": [{"t": "Density"}]}, "mark": {"type": "text", "fontSize": 19, "fontWeight": "bold", "dy": -3}, "encoding": {"text": {"field": "t"}}},
 {"width": 1, "height": 1, "data": {"values": [{"a": 1}]}, "mark": {"type": "point", "opacity": 0}},
 {"width": 1, "height": 1, "data": {"values": [{"a": 1}]}, "mark": {"type": "point", "opacity": 0}},
 {"width": 1, "height": 1, "data": {"values": [{"a": 1}]}, "mark": {"type": "point", "opacity": 0}},
 {"width": 210, "height": 176,
  "encoding": {"x": {"field": "x", "type": "quantitative", "scale": {"domain": [-5.26, 62.48], "nice": false, "zero": false}, "axis": {"title": "Scallop density", "values": [0, 20, 40, 60]}}},
  "layer": [
   {"data": {"name": "curves"}, "transform": [{"filter": "datum.p === 'B_dens'"}], "mark": {"type": "area", "color": "#d9d9d9", "opacity": 1, "interpolate": "monotone", "clip": true},
    "encoding": {"y": {"field": "lo", "type": "quantitative", "scale": {"domain": [-15.77, 2.8], "nice": false, "zero": false}, "axis": {"title": "Swimming probability", "values": [-15, -10, -5, 0], "minExtent": 23.6, "maxExtent": 23.6}}, "y2": {"field": "hi"}}},
   {"data": {"name": "curves"}, "transform": [{"filter": "datum.p === 'B_dens'"}], "mark": {"type": "line", "color": "#8b0000", "strokeWidth": 3.8, "interpolate": "monotone", "clip": true},
    "encoding": {"y": {"field": "est", "type": "quantitative", "scale": {"domain": [-15.77, 2.8], "nice": false, "zero": false}, "axis": null}}},
   {"data": {"name": "rugticks"}, "transform": [{"filter": "datum.p === 'B_dens'"}], "mark": {"type": "tick", "color": "#7f7f7f", "thickness": 1, "size": 5.5, "opacity": 1},
    "encoding": {"y": {"field": "side", "type": "nominal", "scale": {"type": "point", "domain": ["top", "bottom"], "padding": 0.01613}, "axis": null}}},
   {"data": {"name": "rugbands"}, "transform": [{"filter": "datum.p === 'B_dens'"}], "mark": {"type": "rule", "color": "#7f7f7f", "strokeWidth": 5.5, "clip": true},
    "encoding": {"x2": {"field": "x2"}, "y": {"field": "side", "type": "nominal", "scale": {"type": "point", "domain": ["top", "bottom"], "padding": 0.01613}, "axis": null}}}
  ],
  "resolve": {"scale": {"y": "independent"}}
 },
 {"width": 51, "height": 1, "data": {"values": [{"a": 1}]}, "mark": {"type": "point", "opacity": 0}},
 {"width": 199, "height": 176,
  "encoding": {"x": {"field": "x", "type": "quantitative", "scale": {"domain": [-2.55, 67.0], "nice": false, "zero": false}, "axis": {"title": "Scallop density", "values": [0, 20, 40, 60]}}},
  "layer": [
   {"data": {"name": "curves"}, "transform": [{"filter": "datum.p === 'C_dens'"}], "mark": {"type": "area", "color": "#d9d9d9", "opacity": 1, "interpolate": "monotone", "clip": true},
    "encoding": {"y": {"field": "lo", "type": "quantitative", "scale": {"domain": [-32.87, 27.85], "nice": false, "zero": false}, "axis": {"title": "Swimming probability", "values": [-30, -20, -10, 0, 10, 20], "minExtent": 24.6, "maxExtent": 24.6}}, "y2": {"field": "hi"}}},
   {"data": {"name": "curves"}, "transform": [{"filter": "datum.p === 'C_dens'"}], "mark": {"type": "line", "color": "#8b0000", "strokeWidth": 3.8, "interpolate": "monotone", "clip": true},
    "encoding": {"y": {"field": "est", "type": "quantitative", "scale": {"domain": [-32.87, 27.85], "nice": false, "zero": false}, "axis": null}}},
   {"data": {"name": "rugticks"}, "transform": [{"filter": "datum.p === 'C_dens'"}], "mark": {"type": "tick", "color": "#7f7f7f", "thickness": 1, "size": 5.5, "opacity": 1},
    "encoding": {"y": {"field": "side", "type": "nominal", "scale": {"type": "point", "domain": ["top", "bottom"], "padding": 0.01613}, "axis": null}}},
   {"data": {"name": "rugbands"}, "transform": [{"filter": "datum.p === 'C_dens'"}], "mark": {"type": "rule", "color": "#7f7f7f", "strokeWidth": 5.5, "clip": true},
    "encoding": {"x2": {"field": "x2"}, "y": {"field": "side", "type": "nominal", "scale": {"type": "point", "domain": ["top", "bottom"], "padding": 0.01613}, "axis": null}}}
  ],
  "resolve": {"scale": {"y": "independent"}}
 },

 {"width": 126, "height": 221, "data": {"values": [{"t": "Temperature"}]}, "mark": {"type": "text", "fontSize": 19, "fontWeight": "bold", "dx": 2, "dy": -3}, "encoding": {"text": {"field": "t"}}},
 {"width": 1, "height": 1, "data": {"values": [{"a": 1}]}, "mark": {"type": "point", "opacity": 0}},
 {"width": 1, "height": 1, "data": {"values": [{"a": 1}]}, "mark": {"type": "point", "opacity": 0}},
 {"width": 1, "height": 1, "data": {"values": [{"a": 1}]}, "mark": {"type": "point", "opacity": 0}},
 {"width": 210, "height": 176,
  "encoding": {"x": {"field": "x", "type": "quantitative", "scale": {"domain": [6.01, 14.14], "nice": false, "zero": false}, "axis": {"title": "Temperature (C)", "values": [8, 10, 12, 14]}}},
  "layer": [
   {"data": {"name": "curves"}, "transform": [{"filter": "datum.p === 'B_temp'"}], "mark": {"type": "area", "color": "#d9d9d9", "opacity": 1, "interpolate": "monotone", "clip": true},
    "encoding": {"y": {"field": "lo", "type": "quantitative", "scale": {"domain": [-2.68, 1.69], "nice": false, "zero": false}, "axis": {"title": "Swimming probability", "values": [-2, -1, 0, 1], "minExtent": 14.6, "maxExtent": 14.6}}, "y2": {"field": "hi"}}},
   {"data": {"name": "curves"}, "transform": [{"filter": "datum.p === 'B_temp'"}], "mark": {"type": "line", "color": "#8b0000", "strokeWidth": 3.8, "interpolate": "monotone", "clip": true},
    "encoding": {"y": {"field": "est", "type": "quantitative", "scale": {"domain": [-2.68, 1.69], "nice": false, "zero": false}, "axis": null}}},
   {"data": {"name": "rugticks"}, "transform": [{"filter": "datum.p === 'B_temp'"}], "mark": {"type": "tick", "color": "#7f7f7f", "thickness": 1, "size": 5.5, "opacity": 1},
    "encoding": {"y": {"field": "side", "type": "nominal", "scale": {"type": "point", "domain": ["top", "bottom"], "padding": 0.01613}, "axis": null}}},
   {"data": {"name": "rugbands"}, "transform": [{"filter": "datum.p === 'B_temp'"}], "mark": {"type": "rule", "color": "#7f7f7f", "strokeWidth": 5.5, "clip": true},
    "encoding": {"x2": {"field": "x2"}, "y": {"field": "side", "type": "nominal", "scale": {"type": "point", "domain": ["top", "bottom"], "padding": 0.01613}, "axis": null}}}
  ],
  "resolve": {"scale": {"y": "independent"}}
 },
 {"width": 51, "height": 1, "data": {"values": [{"a": 1}]}, "mark": {"type": "point", "opacity": 0}},
 {"width": 199, "height": 176,
  "encoding": {"x": {"field": "x", "type": "quantitative", "scale": {"domain": [5.795, 16.0], "nice": false, "zero": false}, "axis": {"title": "Temperature (°C)", "values": [6, 8, 10, 12, 14, 16]}}},
  "layer": [
   {"data": {"name": "curves"}, "transform": [{"filter": "datum.p === 'C_temp'"}], "mark": {"type": "area", "color": "#d9d9d9", "opacity": 1, "interpolate": "monotone", "clip": true},
    "encoding": {"y": {"field": "lo", "type": "quantitative", "scale": {"domain": [-6.99, 3.02], "nice": false, "zero": false}, "axis": {"title": "Swimming probability", "values": [-5, -2.5, 0, 2.5], "format": ".1f", "minExtent": 26.5, "maxExtent": 26.5}}, "y2": {"field": "hi"}}},
   {"data": {"name": "curves"}, "transform": [{"filter": "datum.p === 'C_temp'"}], "mark": {"type": "line", "color": "#8b0000", "strokeWidth": 3.8, "interpolate": "monotone", "clip": true},
    "encoding": {"y": {"field": "est", "type": "quantitative", "scale": {"domain": [-6.99, 3.02], "nice": false, "zero": false}, "axis": null}}},
   {"data": {"name": "rugticks"}, "transform": [{"filter": "datum.p === 'C_temp'"}], "mark": {"type": "tick", "color": "#7f7f7f", "thickness": 1, "size": 5.5, "opacity": 1},
    "encoding": {"y": {"field": "side", "type": "nominal", "scale": {"type": "point", "domain": ["top", "bottom"], "padding": 0.01613}, "axis": null}}},
   {"data": {"name": "rugbands"}, "transform": [{"filter": "datum.p === 'C_temp'"}], "mark": {"type": "rule", "color": "#7f7f7f", "strokeWidth": 5.5, "clip": true},
    "encoding": {"x2": {"field": "x2"}, "y": {"field": "side", "type": "nominal", "scale": {"type": "point", "domain": ["top", "bottom"], "padding": 0.01613}, "axis": null}}}
  ],
  "resolve": {"scale": {"y": "independent"}}
 }
 ]
 },
 {
 "spacing": 0,
 "bounds": "flush",
 "hconcat": [
 {"width": 319, "height": 1, "data": {"values": [{"a": 1}]}, "mark": {"type": "point", "opacity": 0}},
 {"width": 585, "height": 52,
  "view": {"stroke": "#000000", "strokeWidth": 1.5},
  "data": {"name": "legend"},
  "encoding": {"x": {"field": "item", "type": "nominal", "scale": {"type": "point", "domain": ["Model estimate", "95% Confidence band"], "range": [35, 302], "padding": 0}, "axis": null}},
  "layer": [
   {"transform": [{"filter": "datum.item === 'Model estimate'"}], "mark": {"type": "point", "shape": "M-1,0L1,0", "filled": false, "stroke": "#8b0000", "strokeWidth": 4.5, "size": 1901, "opacity": 1, "yOffset": 3}},
   {"transform": [{"filter": "datum.item === '95% Confidence band'"}], "mark": {"type": "point", "shape": "M-1,-0.456L1,-0.456L1,0.456L-1,0.456Z", "filled": true, "fill": "#d9d9d9", "strokeWidth": 0, "size": 3249, "opacity": 1, "yOffset": 3}},
   {"transform": [{"filter": "datum.item === 'Model estimate'"}], "mark": {"type": "text", "align": "left", "dx": 29.5, "dy": 2, "fontSize": 23, "color": "#000000"}, "encoding": {"text": {"field": "item"}}},
   {"transform": [{"filter": "datum.item === '95% Confidence band'"}], "mark": {"type": "text", "align": "left", "dx": 34, "dy": 2, "fontSize": 23, "color": "#000000"}, "encoding": {"text": {"field": "item"}}}
  ]
 }
 ]
 }
]
}
